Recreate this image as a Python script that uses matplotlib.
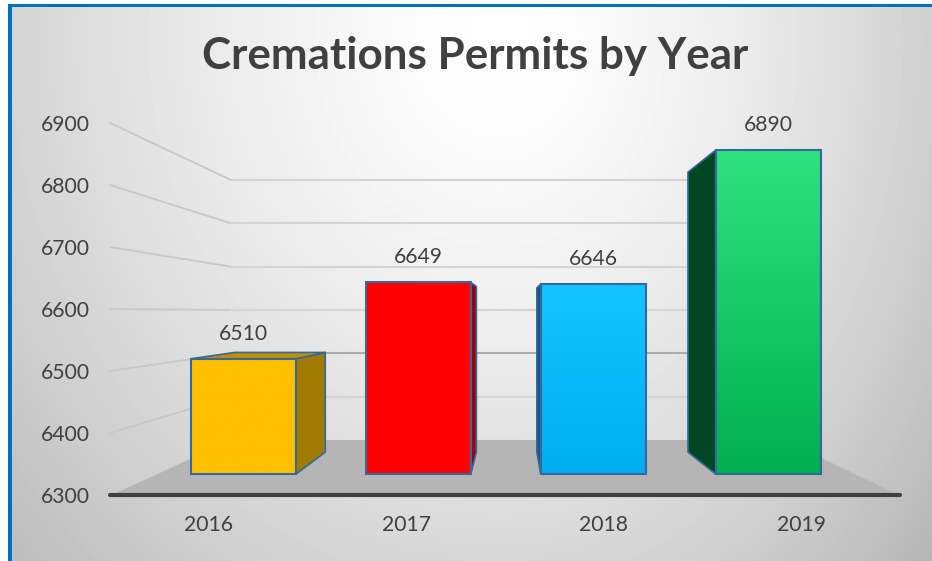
import numpy as np
import matplotlib
matplotlib.use("Agg")
import matplotlib.pyplot as plt
from matplotlib.patches import Polygon, Rectangle

years = ["2016", "2017", "2018", "2019"]
permits = [6510, 6649, 6646, 6890]
y_ticks = [6300, 6400, 6500, 6600, 6700, 6800, 6900]
title = "Cremations Permits by Year"
front_colors = ["#FFC000", "#FF0000", "#14C4FF", "#30E27E"]
bottom_colors = ["#FFC000", "#FF0000", "#00AEEF", "#00B050"]
side_colors = ["#A17C00", "#A00000", "#0B5A88", "#004821"]
top_colors = ["#C09000", "#C00000", "#0C7CB0", "#007A38"]

plt.rcParams["font.family"] = ["Lato", "DejaVu Sans"]
W, H = 932, 561
fig = plt.figure(figsize=(W / 100, H / 100), dpi=100, facecolor="white")

# background with radial gradient and frame
bg = fig.add_axes([8 / W, 0, 1 - 8 / W, 1 - 4 / H])
bg.set_axis_off()
px, py = np.meshgrid(np.arange(8, W), np.arange(4, H))
d = np.sqrt(((px - 500) / 500) ** 2 + ((py - 40) / 560) ** 2)
g = np.clip(255 - 44 * d ** 1.4 - 12 * np.clip((px - 500) / 432, 0, 1) ** 2, 0, 255) / 255
bg.imshow(g, cmap="gray", vmin=0, vmax=1, aspect="auto")
fig.add_artist(Rectangle((8 / W, 0), 4 / W, 1 - 4 / H, transform=fig.transFigure, fc="#0070C0", ec="none"))
fig.add_artist(Rectangle((8 / W, 1 - 7 / H), 1 - 8 / W, 3 / H, transform=fig.transFigure, fc="#0070C0", ec="none"))

ax = fig.add_axes([110 / W, 1 - 495 / H, 790 / W, 372 / H])
ax.patch.set_alpha(0)
ax.set_xlim(-0.5, 3.5)
ax.set_ylim(6300, 6900)
for s in ax.spines.values():
    s.set_visible(False)

# perspective: depth t in 0 (front) .. 1 (back wall)
XC, SHRINK, RISE = 1.535, 0.301, 88.7


def proj(x, v, t):
    s = 1 - SHRINK * t
    return XC + (x - XC) * s, 6300 + RISE * t + s * (v - 6300)


def quad(points, **kw):
    p = Polygon([proj(*q) for q in points], closed=True, clip_on=False, **kw)
    ax.add_patch(p)
    return p


def seg(a, b, **kw):
    pa, pb = proj(*a), proj(*b)
    ax.plot([pa[0], pb[0]], [pa[1], pb[1]], clip_on=False, solid_capstyle="round", **kw)


L, R = -0.5, 3.5
quad([(L, 6300, 0), (L, 6300, 1), (R, 6300, 1), (R, 6300, 0)], fc="#B5B5B5", ec="none", zorder=1)
for v in y_ticks:
    dark = v == 6500
    if v > 6300:
        seg((L, v, 0), (L, v, 1), color="#C8C8C8", lw=1.3, zorder=1.5)
        seg((L, v, 1), (R, v, 1), color="#ABABAB" if dark else "#D4D4D4", lw=1.5, zorder=1.5)
seg((L, 6300, 0), (L, 6300, 1), color="#D0D0D0", lw=0.8, zorder=2)
seg((R, 6300, 0), (R, 6300, 1), color="#C4C4C4", lw=0.6, zorder=2)
ax.plot([L, R], [6300, 6300], color="#404040", lw=3, clip_on=False, zorder=6, solid_capstyle="round")

EDGE = "#34699E"
HW = 0.3
T0, T1 = 0.38, 0.78
for i, v in enumerate(permits):
    a, b = i - HW, i + HW
    # side face on the side turned to the viewer
    xs = b if i < XC else a
    quad([(xs, 6300, T0), (xs, 6300, T1), (xs, v, T1), (xs, v, T0)],
         fc=side_colors[i], ec=EDGE, lw=1.2, zorder=3, joinstyle="round")
    if proj(a, v, T1)[1] > proj(a, v, T0)[1]:
        quad([(a, v, T0), (a, v, T1), (b, v, T1), (b, v, T0)],
             fc=top_colors[i], ec=EDGE, lw=1.2, zorder=3, joinstyle="round")
    # front face
    x0, y0 = proj(a, 6300, T0)
    x1, y1 = proj(b, v, T0)
    bar = ax.bar(x0, y1 - y0, x1 - x0, y0, align="edge", color="none", edgecolor=EDGE,
                 linewidth=1.5, zorder=5, clip_on=False)[0]
    cm = matplotlib.colors.LinearSegmentedColormap.from_list("f", [front_colors[i], bottom_colors[i]])
    im = ax.imshow(np.linspace(0, 1, 256)[:, None], cmap=cm, extent=[x0, x1, y0, y1], origin="upper",
                   aspect="auto", zorder=4, clip_on=False)
    ax.annotate(str(v), ((x0 + x1) / 2, y1), xytext=(0, 25 * 0.72), textcoords="offset points",
                ha="center", va="center", fontsize=15.2, color="#404040", annotation_clip=False, zorder=7)

ax.set_xlim(-0.5, 3.5)
ax.set_ylim(6300, 6900)
ax.set_xticks(range(4), years)
ax.set_yticks(y_ticks, [str(t) for t in y_ticks])
ax.tick_params(length=0, labelsize=15.2, labelcolor="#404040")
ax.tick_params(axis="y", pad=14.5)
ax.tick_params(axis="x", pad=14.5)
fig.text(475.5 / W, 1 - 55.5 / H, title, ha="center", va="center", fontsize=31.7, fontweight="bold", color="#404040")
fig.savefig("out.png", dpi=100)
